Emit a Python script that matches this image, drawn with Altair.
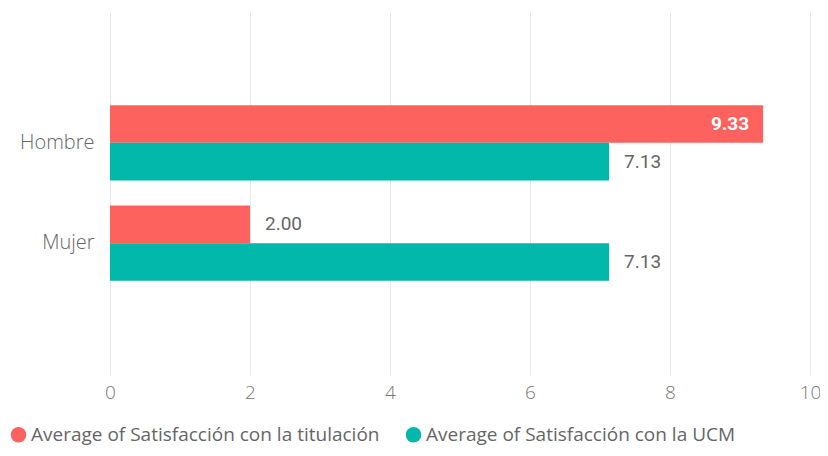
import altair as alt
import pandas as pd

categories = ["Hombre", "Mujer"]
series = ["Average of Satisfacción con la titulación", "Average of Satisfacción con la UCM"]
titulacion = [9.33, 2.00]
ucm = [7.13, 7.13]
colors = ["#FD625E", "#01B8AA"]

rows = []
for i, c in enumerate(categories):
    rows.append({"genero": c, "serie": series[0], "valor": titulacion[i]})
    rows.append({"genero": c, "serie": series[1], "valor": ucm[i]})
df = pd.DataFrame(rows)

FONT = "Open Sans"

y_enc = alt.Y("genero:N", sort=categories,
              scale=alt.Scale(paddingInner=0.25, paddingOuter=0.94),
              axis=alt.Axis(title=None, domain=False, ticks=False, labelPadding=16,
                            labelFontSize=20, labelColor="#666666", labelFont=FONT,
                            labelFontWeight=300))
yoff = alt.YOffset("serie:N", sort=series)
x_enc = alt.X("valor:Q", scale=alt.Scale(domain=[0, 10]),
              axis=alt.Axis(title=None, values=[0, 2, 4, 6, 8, 10], format="d",
                            domain=False, ticks=False, labelFlush=False,
                            gridColor="#e8e8e8", labelPadding=8, labelFontSize=19,
                            labelColor="#777777", labelFont=FONT, labelFontWeight=300))

bars = alt.Chart(df).mark_bar().encode(
    y=y_enc, yOffset=yoff, x=x_enc,
    color=alt.Color("serie:N", sort=series, scale=alt.Scale(domain=series, range=colors),
                    legend=alt.Legend(title=None, orient="none", legendX=-101, legendY=414,
                                      direction="horizontal", symbolType="circle",
                                      symbolSize=240, labelFontSize=19, labelColor="#666666",
                                      labelFont=FONT, columnPadding=24, labelOffset=3,
                                      labelLimit=600, symbolStrokeWidth=0))
)

inside = alt.Chart(df).transform_filter("datum.valor > 8.5").mark_text(
    align="right", dx=-14, fontSize=19, fontWeight="bold", color="white", font="Roboto"
).encode(y=alt.Y("genero:N", sort=categories), yOffset=yoff, x="valor:Q",
         text=alt.Text("valor:Q", format=".2f"))

outside = alt.Chart(df).transform_filter("datum.valor <= 8.5").mark_text(
    align="left", dx=15, fontSize=19, color="#666666", font="Roboto"
).encode(y=alt.Y("genero:N", sort=categories), yOffset=yoff, x="valor:Q",
         text=alt.Text("valor:Q", format=".2f"))

chart = alt.layer(bars, inside, outside).properties(
    width=700, height=364,
    autosize=alt.AutoSizeParams(type="none"),
    padding={"left": 102, "top": 3, "right": 10, "bottom": 73},
).configure_view(stroke=None).configure_scale(bandPaddingInner=0.25)

chart.save("out.html", embed_options={"renderer": "svg", "actions": False})
